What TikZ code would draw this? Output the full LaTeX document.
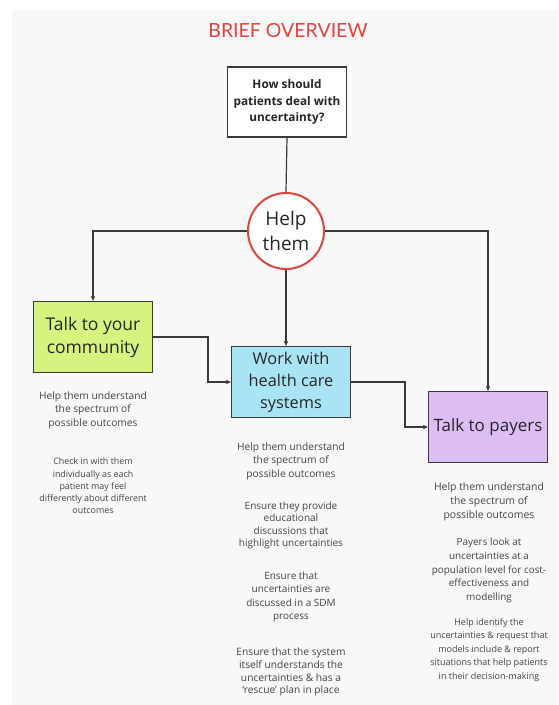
\documentclass[tikz,border=0pt]{standalone}
\usepackage{fontspec}
\setmainfont{Open Sans}
\newfontfamily\headfont{Lato}
\usetikzlibrary{arrows.meta,shapes.geometric}
\definecolor{panel}{HTML}{F8F8F9}
\definecolor{titlered}{HTML}{E0443C}
\definecolor{edge}{HTML}{3A3A3A}
\definecolor{lime}{HTML}{D5F37E}
\definecolor{sky}{HTML}{A9E4F4}
\definecolor{lilac}{HTML}{DCBDF4}
\definecolor{bodygray}{HTML}{454545}
\tikzset{
  x=1pt, y=-1pt,
  qbox/.style={draw=edge, line width=1.3pt, fill=white, minimum width=119pt, minimum height=70pt,
    align=center, font=\bfseries\fontsize{11.8}{16.5}\selectfont, text=black!85},
  hubcircle/.style={circle, draw=titlered, line width=2pt, fill=white, minimum size=76pt, inner sep=0pt,
    align=center, font=\fontsize{19}{25}\selectfont, text=black!85},
  actbox/.style={draw=edge, line width=1.3pt, minimum width=119pt, minimum height=71pt,
    align=center, text=black!85, inner sep=1pt},
  link/.style={draw=edge, line width=1.2pt, -{Stealth[length=5pt,width=4.5pt]}},
  plainlink/.style={draw=edge, line width=1.2pt},
  note/.style={align=center, text=bodygray, font=\fontsize{10.2}{13.5}\selectfont},
  smallnote/.style={align=center, text=bodygray, font=\fontsize{8.9}{12.2}\selectfont}
}
\begin{document}
\begin{tikzpicture}
  % page and grey panel
  \fill[white] (0,0) rectangle (558,705);
  \fill[panel] (12,10) rectangle (558,705);
  \useasboundingbox (0,0) rectangle (558,705);

  % heading
  \node[text=titlered, font=\headfont\fontsize{19.5}{22}\selectfont] (title) at (288,31) {BRIEF OVERVIEW};

  % question and hub
  \node[qbox] (question) at (287,102) {How should\\patients deal with\\uncertainty?};
  \node[hubcircle] (hub) at (286,231) {Help\\them};

  % three action boxes
  \node[actbox, fill=lime, font=\fontsize{17.5}{23}\selectfont] (community) at (93,337) {Talk to your\\community};
  \node[actbox, fill=sky, font=\fontsize{16.3}{22}\selectfont] (health) at (291,382) {Work with\\health care\\systems};
  \node[actbox, fill=lilac, font=\fontsize{17}{22}\selectfont] (payers) at (488,427) {Talk to payers};

  % connectors
  \draw[plainlink] (question.south) -- (hub.north);
  \draw[link] (hub.west) -| (community.north);
  \draw[link] (hub.east) -| (payers.north);
  \draw[link] (hub.south) -- (hub.south |- health.north);
  \coordinate (c1) at (208,337);
  \coordinate (c2) at (405,382);
  \draw[link] (community.east) -- (c1) |- (health.west);
  \draw[link] (health.east) -- (c2) |- (payers.west);

  % notes under community
  \node[note] (g1) at (93,410) {Help them understand\\the spectrum of\\possible outcomes};
  \node[smallnote] (g2) at (93,486) {Check in with them\\individually as each\\patient may feel\\differently about different\\outcomes};

  % notes under health care systems
  \node[note] (b1) at (291,461) {Help them understand\\the spectrum of\\possible outcomes};
  \node[note, font=\fontsize{10}{12.4}\selectfont] (b2) at (291,525.5) {Ensure they provide\\educational\\discussions that\\highlight uncertainties};
  \node[note, font=\fontsize{10}{13.4}\selectfont] (b3) at (291,597) {Ensure that\\uncertainties are\\discussed in a SDM\\process};
  \node[note, font=\fontsize{10.2}{12.8}\selectfont] (b4) at (291,672) {Ensure that the system\\itself understands the\\uncertainties \& has a\\`rescue' plan in place};

  % notes under payers
  \node[note, font=\fontsize{10.4}{14}\selectfont] (p1) at (489,502) {Help them understand\\the spectrum of\\possible outcomes};
  \node[note, font=\fontsize{9.9}{13.8}\selectfont] (p2) at (489,570.5) {Payers look at\\uncertainties at a\\population level for cost-\\effectiveness and\\modelling};
  \node[smallnote, font=\fontsize{9}{13.5}\selectfont] (p3) at (489,650) {Help identify the\\uncertainties \& request that\\models include \& report\\situations that help patients\\in their decision-making};
\end{tikzpicture}
\end{document}
